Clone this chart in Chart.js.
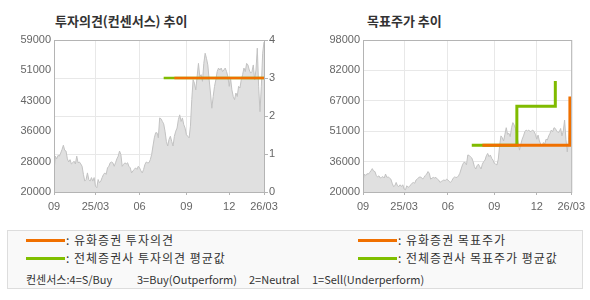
<!DOCTYPE html>
<html><head><meta charset="utf-8">
<script src="https://cdn.jsdelivr.net/npm/chart.js@4.4.1/dist/chart.umd.min.js"></script>
<style>
body{margin:0;width:590px;height:300px;background:#fff;position:relative;overflow:hidden;font-family:"Noto Sans CJK KR","Noto Sans",sans-serif;color:#333;}
.title{position:absolute;top:12px;font-size:13px;font-weight:bold;color:#333;line-height:18px;white-space:nowrap;}
canvas{position:absolute;top:0;}
#legend{position:absolute;left:7px;top:230px;width:576px;height:59px;border:1px solid #ddd;background:#f9f9f9;box-sizing:border-box;}
.ln{position:absolute;height:3px;width:39px;}
.lt{position:absolute;font-size:12px;line-height:14px;white-space:nowrap;color:#333;letter-spacing:1px;}
.ft{position:absolute;font-size:11px;line-height:14px;white-space:nowrap;color:#333;top:272px;}
</style>
</head><body>
<div class="title" style="left:55px">투자의견(컨센서스) 추이</div>
<div class="title" style="left:367px">목표주가 추이</div>
<canvas id="c1" width="295" height="222" style="left:0"></canvas>
<canvas id="c2" width="295" height="222" style="left:295px"></canvas>
<div id="legend"></div>
<div class="ln" style="left:26px;top:239px;background:#f07000"></div>
<div class="lt" style="left:66px;top:233px">: 유화증권 투자의견</div>
<div class="ln" style="left:26px;top:257px;background:#80bf00"></div>
<div class="lt" style="left:66px;top:251px">: 전체증권사 투자의견 평균값</div>
<div class="ln" style="left:358px;top:239px;background:#f07000"></div>
<div class="lt" style="left:398px;top:233px">: 유화증권 목표주가</div>
<div class="ln" style="left:358px;top:257px;background:#80bf00"></div>
<div class="lt" style="left:398px;top:251px">: 전체증권사 목표주가 평균값</div>
<div class="ft" style="left:26px">컨센서스:4=S/Buy</div>
<div class="ft" style="left:137px">3=Buy(Outperform)</div>
<div class="ft" style="left:249px">2=Neutral</div>
<div class="ft" style="left:312px">1=Sell(Underperform)</div>
<script>
// ---- data ----
const price = [
25400,29200,28500,29400,29200,30000,30900,32000,30700,30500,
28500,27700,28300,27200,27500,27900,27200,29200,27500,27700,
27200,26600,24500,22800,23200,24900,23200,22800,23700,22800,
23700,21500,21100,23200,22400,22800,23700,24500,24900,24500,
26200,26600,27500,27700,27500,26600,27500,28500,29200,30500,
29600,26600,27100,27500,27200,27500,26600,26200,24900,25400,
25800,26200,25800,26600,26200,25400,24900,25800,27100,27700,
27500,27500,28300,29600,31800,33900,35200,35200,33900,39000,
38800,38100,37500,35600,33000,31800,33500,34300,33000,31800,
34300,35600,36400,38600,39800,38100,39000,37300,36400,34700,
34300,33900,36900,43700,48800,47900,46200,49600,53000,49600,
50100,48400,53000,55600,54300,52600,48800,45400,41500,44500,
47100,48800,50900,51800,51300,51800,50900,51300,51800,50900,
49600,47100,49200,46200,44500,43700,45400,44500,47100,46700,
48800,50100,51800,50900,53000,52600,51300,50500,50900,52600,
48800,51300,56900,47000,40600,47000,55600,58500
];
const xTickIndex = [0, 31, 64, 99, 131, 157];
const xTickLabels = ['09', '25/03', '06', '09', '12', '26/03'];
const leftPriceTickLabels = ['20000','28000','36000','43000','51000','59000'];
const rightPriceTickLabels = ['20000','36000','51000','67000','82000','98000'];
const opinionTicks = [0, 1, 2, 3, 4];
// [start index, value]
const ourOpinion = [[90, 3]];
const avgOpinion = [[82, 3]];
const ourTarget = [[90, 44000], [156, 69000]];
const ourTargetEnd = 156;
const avgTarget = [[82, 44000], [116, 64000], [145, 77000]];
const avgTargetEnd = 145;

// ---- helpers ----
const N = price.length;
function steps(changes, end) {
  const out = [];
  for (let i = 0; i < N; i++) {
    let v = null;
    for (const [s, val] of changes) if (i >= s) v = val;
    if (end !== undefined && i > end) v = null;
    out.push({x: i, y: v});
  }
  return out;
}
const pricePts = price.map((v, i) => ({x: i, y: v}));
const ORANGE = '#f07000', GREEN = '#80bb00';
const GRID = '#e8e8e8', FRAME = '#b4b4b4', TXT = '#666';
const tickFont = {family: '"Liberation Sans", Arial, sans-serif', size: 11};

const framePlugin = {
  id: 'frame',
  afterDatasetsDraw(chart) {
    const a = chart.chartArea, ctx = chart.ctx;
    ctx.save();
    ctx.strokeStyle = FRAME; ctx.lineWidth = 1;
    ctx.strokeRect(a.left + 0.5, a.top + 0.5, a.right - a.left, a.bottom - a.top);
    ctx.restore();
  }
};

function xScale() {
  return {
    type: 'linear', min: 0, max: N - 1,
    afterBuildTicks: s => { s.ticks = xTickIndex.map(v => ({value: v})); },
    afterFit: s => { s.height = 30; },
    grid: {color: GRID, drawTicks: true, tickLength: 3, tickColor: FRAME},
    border: {display: false},
    ticks: {autoSkip: false, maxRotation: 0, padding: 5, color: TXT, font: tickFont,
      callback: v => xTickLabels[xTickIndex.indexOf(v)]}
  };
}
function priceScale(labels, width, showGrid) {
  const min = +labels[0], max = +labels[labels.length - 1];
  const step = (max - min) / (labels.length - 1);
  return {
    type: 'linear', position: 'left', min: min, max: max,
    afterBuildTicks: s => { s.ticks = labels.map((l, k) => ({value: min + k * step})); },
    afterFit: s => { s.width = width; },
    grid: {display: showGrid, color: GRID, drawTicks: false},
    border: {display: false},
    ticks: {padding: 3, color: TXT, font: tickFont,
      callback: (v, k) => labels[k]}
  };
}
const common = {
  responsive: false, devicePixelRatio: 1, animation: false,
  plugins: {legend: {display: false}, tooltip: {enabled: false}},
  elements: {point: {radius: 0}, line: {tension: 0}}
};

new Chart(document.getElementById('c1'), {
  type: 'line',
  data: {datasets: [
    {data: steps(ourOpinion), yAxisID: 'y2', borderColor: ORANGE, borderWidth: 2.5, fill: false, spanGaps: false, order: 0},
    {data: steps(avgOpinion), yAxisID: 'y2', borderColor: GREEN, borderWidth: 2.5, fill: false, spanGaps: false, order: 1},
    {data: pricePts, yAxisID: 'y', borderColor: '#c2c2c2', borderWidth: 1, backgroundColor: '#e0e0e0', fill: 'start', order: 2}
  ]},
  options: Object.assign({}, common, {
    layout: {padding: {top: 40, left: 0, right: 0, bottom: 0}},
    scales: {
      x: xScale(),
      y: priceScale(leftPriceTickLabels, 54, false),
      y2: {
        type: 'linear', position: 'right', min: 0, max: 4,
        afterBuildTicks: s => { s.ticks = opinionTicks.map(v => ({value: v})); },
        afterFit: s => { s.width = 295 - 264; },
        grid: {color: GRID, drawTicks: true, tickLength: 4, tickColor: FRAME},
        border: {display: false},
        ticks: {padding: 1, color: TXT, font: tickFont}
      }
    }
  }),
  plugins: [framePlugin]
});

new Chart(document.getElementById('c2'), {
  type: 'line',
  data: {datasets: [
    {data: steps(ourTarget, ourTargetEnd), borderColor: ORANGE, borderWidth: 3, fill: false, stepped: 'before', order: 0},
    {data: steps(avgTarget, avgTargetEnd), borderColor: GREEN, borderWidth: 3, fill: false, stepped: 'before', order: 1},
    {data: pricePts, borderColor: '#c2c2c2', borderWidth: 1, backgroundColor: '#e0e0e0', fill: 'start', order: 2}
  ]},
  options: Object.assign({}, common, {
    layout: {padding: {top: 40, left: 0, right: 18, bottom: 0}},
    scales: {
      x: xScale(),
      y: priceScale(rightPriceTickLabels, 68, true)
    }
  }),
  plugins: [framePlugin]
});
</script>
</body></html>
